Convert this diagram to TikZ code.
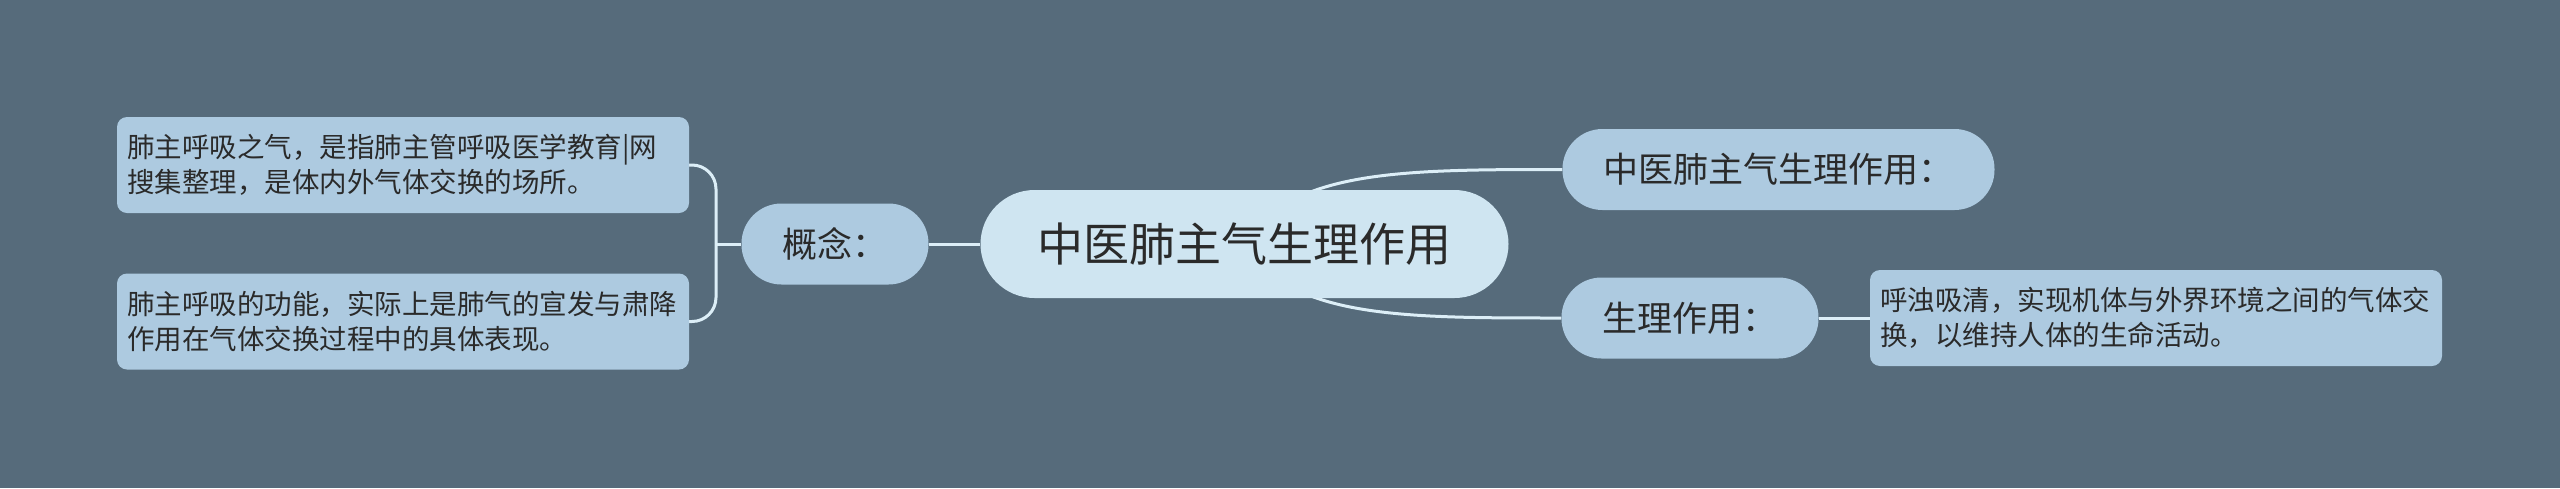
\documentclass[tikz,border=0pt]{standalone}
\usepackage{fontspec}
\setmainfont{Noto Sans CJK SC}

\definecolor{bgslate}{HTML}{566B7B}
\definecolor{rootfill}{HTML}{CFE5F1}
\definecolor{topicfill}{HTML}{ADCAE0}
\definecolor{linkcol}{HTML}{DCEEF7}
\definecolor{inkcol}{HTML}{2A2A2A}

\pgfdeclarelayer{back}
\pgfdeclarelayer{links}
\pgfsetlayers{back,links,main}

\tikzset{
  rootnode/.style={fill=rootfill, text=inkcol, rounded corners=54pt, minimum height=108pt, inner xsep=57pt, font=\fontsize{46pt}{55pt}\selectfont},
  topicnode/.style={fill=topicfill, text=inkcol, rounded corners=40pt, minimum height=81pt, inner xsep=41pt, font=\fontsize{35pt}{42pt}\selectfont},
  leafnode/.style={fill=topicfill, text=inkcol, rounded corners=10pt, minimum height=96pt, inner xsep=10pt, text width=552pt, align=left, font=\fontsize{27.5pt}{35pt}\selectfont},
  link/.style={draw=linkcol, line width=3pt}
}

\begin{document}
\begin{tikzpicture}[x=1pt, y=-1pt]

\useasboundingbox (0,0) rectangle (2560,488);
\begin{pgfonlayer}{back}
\fill[bgslate] (0,0) rectangle (2560,488);
\end{pgfonlayer}

\node[rootnode] (root) at (1244.5,244) {中医肺主气生理作用};

\node[topicnode] (gainian) at (835,244) {概念：};
\node[topicnode] (zuoyong) at (1778.5,169.5) {中医肺主气生理作用：};
\node[topicnode] (shengli) at (1690,318) {生理作用：};

\node[leafnode] (leafa) at (403,165) {肺主呼吸之气，是指肺主管呼吸医学教育|网\\搜集整理，是体内外气体交换的场所。};
\node[leafnode] (leafb) at (403,321.5) {肺主呼吸的功能，实际上是肺气的宣发与肃降\\作用在气体交换过程中的具体表现。};
\node[leafnode] (leafc) at (2156,318) {呼浊吸清，实现机体与外界环境之间的气体交\\换，以维持人体的生命活动。};

\coordinate (brace) at (716,244);

\begin{pgfonlayer}{links}
\draw[link] (root.west) -- (gainian.east);
\draw[link] (root.center) .. controls (1290,170) and (1400,169.5) .. (zuoyong.west);
\draw[link] (root.center) .. controls (1290,318) and (1400,318) .. (shengli.west);
\draw[link] (shengli.east) -- (leafc.west);

\draw[link] (gainian.west) -- (brace);
\draw[link, rounded corners=24pt] (leafa.east) -| (brace) |- (leafb.east);
\end{pgfonlayer}

\end{tikzpicture}
\end{document}
